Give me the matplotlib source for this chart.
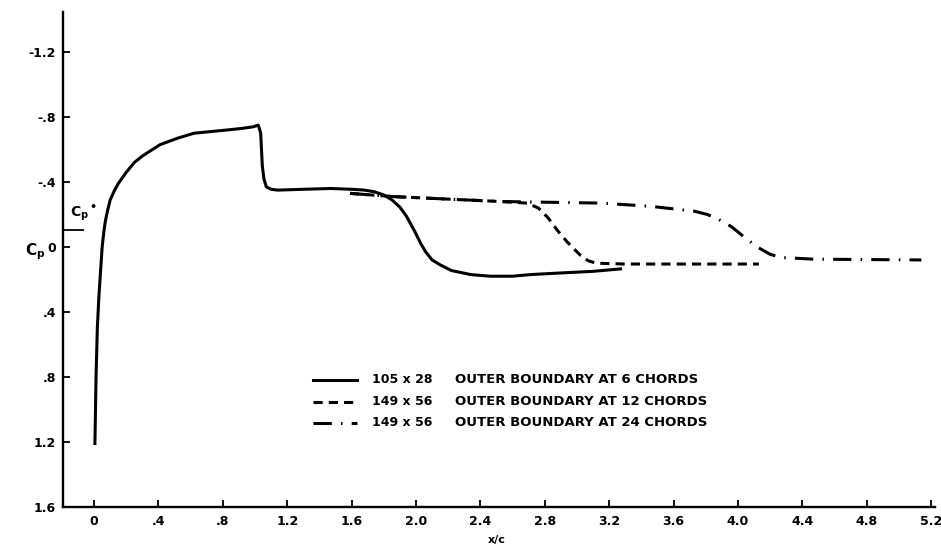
import matplotlib
matplotlib.use("Agg")
import matplotlib.pyplot as plt

# ---- data ----
x_6 = [0.005, 0.012, 0.02, 0.03, 0.04, 0.05, 0.06, 0.07, 0.085, 0.10, 0.125, 0.15, 0.20,
       0.25, 0.30, 0.41, 0.52, 0.62, 0.72, 0.825, 0.92, 0.99, 1.02, 1.035, 1.045, 1.055,
       1.07, 1.10, 1.14, 1.30, 1.47, 1.60, 1.68, 1.74, 1.80, 1.85, 1.90, 1.94, 1.99,
       2.03, 2.06, 2.10, 2.15, 2.22, 2.34, 2.46, 2.60, 2.71, 2.90, 3.10, 3.27]
cp_6 = [1.21, 0.80, 0.50, 0.30, 0.15, 0.00, -0.09, -0.16, -0.23, -0.29, -0.345, -0.39,
        -0.46, -0.52, -0.56, -0.63, -0.67, -0.70, -0.71, -0.72, -0.73, -0.74, -0.75,
        -0.70, -0.50, -0.42, -0.37, -0.355, -0.35, -0.355, -0.36, -0.355, -0.35, -0.34,
        -0.32, -0.29, -0.245, -0.19, -0.10, -0.02, 0.03, 0.08, 0.11, 0.145, 0.17, 0.18,
        0.18, 0.17, 0.16, 0.15, 0.135]

x_12 = [1.59, 1.86, 2.30, 2.52, 2.69, 2.76, 2.82, 2.88, 2.94, 3.02, 3.07, 3.12, 3.30,
        3.77, 4.13]
cp_12 = [-0.33, -0.31, -0.29, -0.28, -0.27, -0.24, -0.18, -0.10, -0.03, 0.05, 0.085,
         0.10, 0.105, 0.105, 0.105]

x_24 = [1.59, 1.86, 2.30, 2.52, 3.15, 3.46, 3.73, 3.81, 3.88, 3.96, 4.04, 4.12, 4.20,
        4.27, 4.47, 5.14]
cp_24 = [-0.33, -0.31, -0.29, -0.28, -0.27, -0.25, -0.22, -0.20, -0.17, -0.125, -0.06,
         0.0, 0.045, 0.065, 0.075, 0.08]

cp_star = -0.105

grid_labels = ["105 x 28", "149 x 56", "149 x 56"]
boundary_labels = ["OUTER BOUNDARY AT 6 CHORDS", "OUTER BOUNDARY AT 12 CHORDS",
                   "OUTER BOUNDARY AT 24 CHORDS"]

xticks = [0, 0.4, 0.8, 1.2, 1.6, 2.0, 2.4, 2.8, 3.2, 3.6, 4.0, 4.4, 4.8, 5.2]
xticklabels = ["0", ".4", ".8", "1.2", "1.6", "2.0", "2.4", "2.8", "3.2", "3.6",
               "4.0", "4.4", "4.8", "5.2"]
yticks = [-1.2, -0.8, -0.4, 0, 0.4, 0.8, 1.2, 1.6]
yticklabels = ["-1.2", "-.8", "-.4", "0", ".4", ".8", "1.2", "1.6"]

# ---- figure ----
plt.rcParams['font.family'] = ['DejaVu Sans']
plt.rcParams['font.weight'] = 'bold'
fig = plt.figure(figsize=(9.41, 5.48), dpi=100)
ax = fig.add_axes([0.067, 0.075, 0.9267, 0.903])

lw = 2.2
styles = [dict(linestyle='-'),
          dict(linestyle=(0, (3.0, 2.0))),
          dict(linestyle=(0, (6.0, 3.0, 0.5, 3.0)))]

ax.plot(x_6, cp_6, color='black', lw=lw, solid_joinstyle='round', **styles[0])
ax.plot(x_12, cp_12, color='black', lw=lw, **styles[1])
ax.plot(x_24, cp_24, color='black', lw=lw, **styles[2])

ax.set_xlim(-0.193, 5.225)
ax.set_ylim(1.6, -1.446)

for s in ['top', 'right']:
    ax.spines[s].set_visible(False)
for s in ['left', 'bottom']:
    ax.spines[s].set_linewidth(1.7)

ax.set_xticks(xticks)
ax.set_xticklabels(xticklabels)
ax.set_yticks(yticks)
ax.set_yticklabels(yticklabels)
ax.tick_params(direction='in', length=5, width=1.3, labelsize=9)
ax.tick_params(axis='y', pad=5)
ax.tick_params(axis='x', pad=6)

# Cp* marker
ax.axhline(cp_star, xmin=0, xmax=0.023, color='black', lw=1.3)
ax.text(-0.15, cp_star - 0.04, r"$\mathbf{C_p}$", fontsize=10, ha='left', va='bottom')
ax.text(-0.006, -0.246, "•", fontsize=8, ha='center', va='center')

# axis labels
fig.text(35 / 941, 1 - 252 / 548, r"$\mathbf{C_p}$", fontsize=11, ha='center', va='center')
fig.text(497 / 941, 1 - 540 / 548, "x/c", fontsize=8, ha='center', va='center',
         fontweight='bold')

# legend (drawn manually)
rows_y = [0.257, 0.212, 0.170]
for st, gl, bl, yy in zip(styles, grid_labels, boundary_labels, rows_y):
    ax.plot([0.287, 0.337], [yy, yy], transform=ax.transAxes, color='black', lw=lw, **st)
    ax.text(0.354, yy, gl, transform=ax.transAxes, fontsize=9, va='center', ha='left')
    ax.text(0.4495, yy, bl, transform=ax.transAxes, fontsize=9.5, va='center', ha='left')

fig.savefig("out.png", dpi=100)
